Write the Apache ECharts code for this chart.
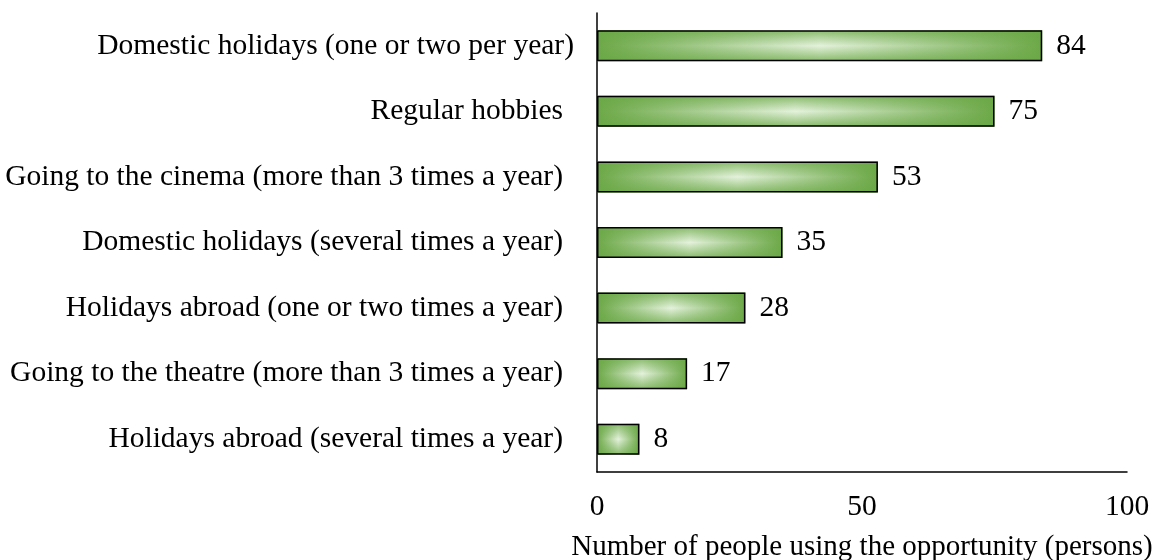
<!DOCTYPE html>
<html>
<head>
<meta charset="utf-8">
<script src="https://cdn.jsdelivr.net/npm/echarts@6/dist/echarts.min.js"></script>
<style>
  html, body { margin: 0; padding: 0; background: #fff; }
  #chart { width: 1156px; height: 560px; }
</style>
</head>
<body>
<div id="chart"></div>
<script>
// Leisure opportunities used by respondents
const categories = [
  'Domestic holidays (one or two per year)',
  'Regular hobbies',
  'Going to the cinema (more than 3 times a year)',
  'Domestic holidays (several times a year)',
  'Holidays abroad (one or two times a year)',
  'Going to the theatre (more than 3 times a year)',
  'Holidays abroad (several times a year)'
];
const persons = [84, 75, 53, 35, 28, 17, 8];
const xTicks = [0, 50, 100];
const xTitle = 'Number of people using the opportunity (persons)';

const FONT = '"Liberation Serif", "Times New Roman", serif';
const FS = 29.5;

const chart = echarts.init(document.getElementById('chart'), null, { renderer: 'canvas' });

// Bars are filled with a centre-bright green: a horizontal gradient underneath
// and a vertical edge shading on top, outlined in black.
const horizontalFill = new echarts.graphic.LinearGradient(0, 0, 1, 0, [
  { offset: 0, color: '#6ca847' },
  { offset: 0.5, color: '#e4f2dc' },
  { offset: 1, color: '#6ca847' }
]);
const verticalShade = new echarts.graphic.LinearGradient(0, 0, 0, 1, [
  { offset: 0, color: 'rgba(106,168,70,0.75)' },
  { offset: 0.5, color: 'rgba(106,168,70,0)' },
  { offset: 1, color: 'rgba(106,168,70,0.75)' }
]);

chart.setOption({
  animation: false,
  backgroundColor: '#ffffff',
  grid: {
    left: 597, right: 29, top: 13, bottom: 88,
    containLabel: false,
    outerBoundsMode: 'none'
  },
  xAxis: {
    type: 'value',
    min: xTicks[0],
    max: xTicks[xTicks.length - 1],
    interval: xTicks[1] - xTicks[0],
    name: xTitle,
    nameLocation: 'middle',
    nameGap: 61,
    nameTextStyle: { fontFamily: FONT, fontSize: 29, color: '#000' },
    axisLine: { show: true, lineStyle: { color: '#000', width: 1.5 } },
    axisTick: { show: false },
    splitLine: { show: false },
    axisLabel: { margin: 20, fontFamily: FONT, fontSize: FS, color: '#000' }
  },
  yAxis: {
    type: 'category',
    data: categories,
    inverse: true,
    axisLine: { show: true, lineStyle: { color: '#000', width: 1.5 } },
    axisTick: { show: false },
    axisLabel: {
      margin: 23,
      fontFamily: FONT, fontSize: FS, color: '#000',
      formatter: (v, i) => i === 0 ? v : '{p|' + v + '}',
      rich: { p: { fontFamily: FONT, fontSize: FS, color: '#000', padding: [0, 11, 0, 0] } }
    }
  },
  series: [
    {
      type: 'bar',
      data: persons,
      barWidth: 31,
      itemStyle: { color: horizontalFill },
      silent: true
    },
    {
      type: 'bar',
      data: persons,
      barWidth: 31,
      barGap: '-100%',
      itemStyle: { color: verticalShade, borderColor: '#000', borderWidth: 1.5 },
      label: {
        show: true,
        position: 'right',
        distance: 14,
        fontFamily: FONT, fontSize: FS, color: '#000'
      }
    }
  ]
});
</script>
</body>
</html>
